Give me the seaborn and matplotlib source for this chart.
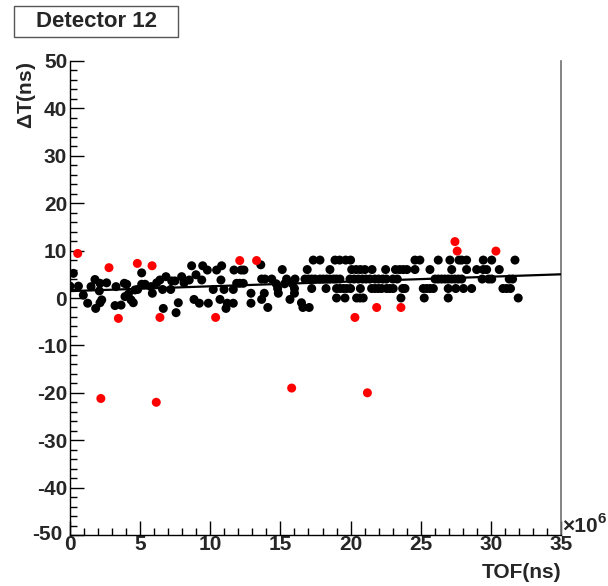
import numpy as np
import pandas as pd
import matplotlib
matplotlib.use("Agg")
import matplotlib.pyplot as plt
import matplotlib.transforms as mtransforms
import seaborn as sns
from matplotlib.ticker import MultipleLocator
from matplotlib.patches import Rectangle

# ---------------- data (TOF in units of 1e6 ns, dT in ns) ----------------
black_x = [0.24, 0.0, 0.6, 0.95, 1.26, 1.5, 1.78, 2.14, 2.09, 1.83, 2.14, 2.26, 2.61,
           3.28, 3.21, 3.64, 3.87, 4.04, 3.92, 4.16, 4.35, 4.51, 4.63, 4.82, 5.11, 5.11,
           5.35, 5.77, 5.87,
           6.18, 6.41, 6.6, 6.65, 6.84, 7.18, 7.25, 7.48, 7.56, 7.72, 7.96, 8.13, 8.5,
           8.67, 8.84, 8.98, 9.22, 9.39, 9.46, 9.79, 9.86, 10.21, 10.45, 10.69, 10.81,
           10.76, 10.98, 11.12, 11.21, 11.64, 11.64, 11.69, 11.88,
           12.1, 12.35, 12.2, 12.4, 12.9, 12.9, 13.6, 13.66, 13.9, 14.38, 13.85, 13.66,
           14.1, 14.7, 14.8, 14.85, 15.13, 15.3, 15.44, 15.68, 15.85, 16.0, 16.0, 16.04,
           16.5, 16.6, 16.75, 16.91, 16.99, 17.05,
           # y = 8 row
           17.34, 17.82, 18.89, 19.22, 19.65, 20.0, 24.59, 24.94, 26.25, 27.08, 27.73,
           27.92, 28.27, 29.46, 30.06, 31.72,
           # y = 6 row
           18.53, 20.08, 20.4, 20.7, 21.02, 21.53, 22.5, 23.2, 23.5, 23.76, 24.02, 24.59,
           25.66, 27.21, 28.27, 28.99, 29.46, 29.7, 30.6,
           # y = 4 row
           17.23, 17.46, 17.82, 18.05, 18.3, 18.53, 18.8, 19.0, 19.24, 19.96, 20.25,
           20.55, 20.85, 21.1, 21.38, 21.74, 22.0, 22.3, 22.55, 23.02, 23.33, 26.02,
           26.25, 26.49, 26.73, 26.96, 27.2, 27.44, 27.68, 27.92, 29.38, 29.84, 30.06,
           31.31, 31.55,
           # y = 2 row
           17.23, 18.25, 19.0, 19.24, 19.48, 19.72, 20.0, 20.7, 21.5, 21.74, 21.98, 22.21,
           22.57, 22.8, 23.04, 23.71, 23.88, 25.18, 25.42, 25.66, 25.9, 26.96, 27.5,
           28.05, 28.63, 30.86, 31.12, 31.4,
           # y = 0 row
           19.0, 19.6, 20.43, 20.67, 20.9, 23.59, 25.25, 26.96, 31.95]
black_y = [5.2, 2.5, 2.5, 0.6, -1.1, 2.4, 3.9, 3.1, 1.5, -2.2, -1.0, -0.4, 3.2,
           2.4, -1.6, -1.5, 3.1, 2.9, 0.3, 0.8, -0.4, -1.0, 1.7, 1.8, 5.3, 2.9,
           2.9, 2.4, 1.0,
           3.2, 3.8, 1.8, -2.2, 4.5, 1.8, 3.6, 3.6, -3.1, -1.0, 4.5, 3.2, 3.8,
           6.8, -0.3, 4.9, -1.1, 3.8, 6.8, 5.9, -1.1, 1.8, 5.9, -0.3, 6.8,
           3.8, 1.8, -2.2, -1.1, -1.1, 1.8, 5.9, 3.1,
           3.1, 3.1, 5.9, 5.9, 1.0, -1.1, 7.0, 4.0, 4.0, 4.0, 1.0, -0.3,
           -2.0, 3.0, 2.0, 1.0, 6.0, 3.0, 4.0, -0.3, 3.0, 2.0, 1.0, 4.0,
           -1.0, -2.0, 4.0, 6.0, 4.0, -2.0,
           8, 8, 8, 8, 8, 8, 8, 8, 8, 8, 8,
           8, 8, 8, 8, 8,
           6, 6, 6, 6, 6, 6, 6, 6, 6, 6, 6, 6,
           6, 6, 6, 6, 6, 6, 6,
           4, 4, 4, 4, 4, 4, 4, 4, 4, 4, 4,
           4, 4, 4, 4, 4, 4, 4, 4, 4, 4, 4,
           4, 4, 4, 4, 4, 4, 4, 4, 4, 4, 4,
           4, 4,
           2, 2, 2, 2, 2, 2, 2, 2, 2, 2, 2, 2,
           2, 2, 2, 2, 2, 2, 2, 2, 2, 2, 2,
           2, 2, 2, 2, 2,
           0, 0, 0, 0, 0, 0, 0, 0, 0]

red_x = [0.55, 2.2, 2.78, 3.45, 4.8, 5.85, 6.15, 6.41, 10.38, 12.1, 13.3, 15.8,
         20.31, 21.2, 21.86, 23.59, 27.44, 27.6, 30.36]
red_y = [9.4, -21.2, 6.4, -4.3, 7.3, 6.8, -22.0, -4.1, -4.1, 7.9, 7.9, -19.0,
         -4.1, -20.0, -2.0, -2.0, 11.9, 9.9, 9.9]

fit_x = [0.0, 35.0]
fit_y = [1.45, 5.0]

x_ticks = [0, 5, 10, 15, 20, 25, 30, 35]
y_ticks = [-50, -40, -30, -20, -10, 0, 10, 20, 30, 40, 50]

# ---------------- plotting ----------------
sns.set_style("ticks")
plt.rcParams['font.family'] = ['Liberation Sans', 'DejaVu Sans']
plt.rcParams['font.weight'] = 'bold'
plt.rcParams['axes.unicode_minus'] = False
plt.rcParams['mathtext.fontset'] = 'custom'
plt.rcParams['mathtext.rm'] = 'Liberation Sans:bold'
plt.rcParams['mathtext.bf'] = 'Liberation Sans:bold'

df = pd.DataFrame({
    "x": black_x + red_x,
    "y": black_y + red_y,
    "kind": ["in"] * len(black_x) + ["out"] * len(red_x),
})

W, H = 608, 586
fig = plt.figure(figsize=(W / 100, H / 100), dpi=100)
ax = fig.add_axes([70 / W, 51 / H, 491 / W, 474 / H])

sns.scatterplot(data=df, x="x", y="y", hue="kind",
                palette={"in": "black", "out": "#ff0000"},
                s=42, linewidth=0, legend=False, ax=ax, zorder=3)
sns.lineplot(x=fit_x, y=fit_y, color="black", linewidth=1.6, ax=ax, zorder=4)

ax.set_xlim(0, 35)
ax.set_ylim(-50, 50)
ax.set_xticks(x_ticks)
ax.set_yticks(y_ticks)
ax.xaxis.set_minor_locator(MultipleLocator(1))
ax.yaxis.set_minor_locator(MultipleLocator(2))
ax.tick_params(axis="both", which="major", direction="in", length=10, width=1.0,
               labelsize=15, color="black")
ax.tick_params(axis="both", which="minor", direction="in", length=5, width=1.0,
               color="black")
ax.tick_params(axis="x", which="both", top=False, pad=0)
ax.tick_params(axis="y", which="both", right=False, pad=2)
for lab in ax.get_xticklabels() + ax.get_yticklabels():
    lab.set_fontweight("bold")

# nudge the lowest y label so it does not collide with the x "0"
lowest = ax.get_yticklabels()[0]
lowest.set_transform(lowest.get_transform() +
                     mtransforms.ScaledTranslation(-5 / 100, 2 / 100, fig.dpi_scale_trans))

for side in ["left", "bottom"]:
    ax.spines[side].set_color("black")
    ax.spines[side].set_linewidth(1.0)
ax.spines["right"].set_color("#707070")
ax.spines["right"].set_linewidth(1.2)
ax.spines["top"].set_visible(False)

ax.set_xlabel("")
ax.set_ylabel("")
fig.text(561 / W, 1 - 572 / H, "TOF(ns)", ha="right", va="center",
         fontsize=15, fontweight="bold")
fig.text(27 / W, 1 - 62 / H, r"$\Delta$T(ns)", ha="center", va="top",
         rotation=90, fontsize=15, fontweight="bold")
fig.text(562 / W, 1 - 527 / H, "\u00d710", ha="left", va="center",
         fontsize=15, fontweight="bold")
fig.text(597 / W, 1 - 519 / H, "6", ha="left", va="center",
         fontsize=11, fontweight="bold")

fig.patches.append(Rectangle((14 / W, 1 - 37 / H), 164 / W, 31 / H,
                             transform=fig.transFigure, facecolor="white",
                             edgecolor="#555555", linewidth=1.0))
fig.text(96 / W, 1 - 21.5 / H, "Detector 12", ha="center", va="center",
         fontsize=16, fontweight="bold")

fig.savefig("out.png", dpi=100)
